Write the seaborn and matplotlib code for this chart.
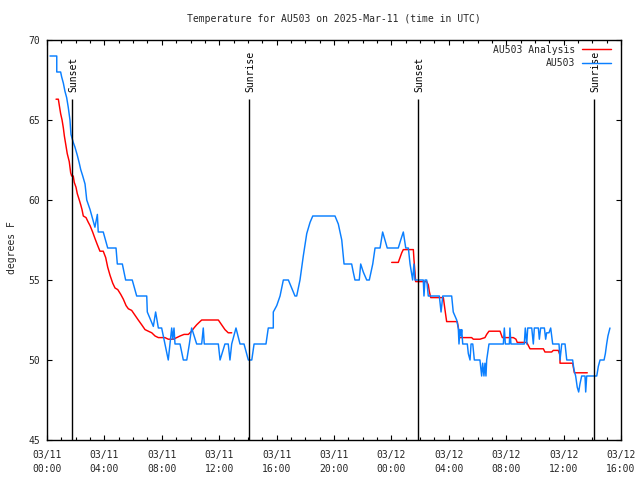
import numpy as np
import pandas as pd
import matplotlib
matplotlib.use("Agg")
import matplotlib.pyplot as plt
import seaborn as sns

# ---------------- data (hours since 2025-03-11 00:00 UTC, degrees F) ----------------
obs_hours = [0.21, 0.68, 0.68, 0.95, 1.02, 1.14, 1.25, 1.37, 1.48, 1.60, 1.67, 1.83, 1.95, 2.11, 2.25,
             2.35, 2.49, 2.65, 2.77, 3.00, 3.34, 3.51, 3.57, 3.92, 4.23, 4.81, 4.90, 5.25, 5.48, 5.94,
             6.25, 6.95, 6.99, 7.41, 7.57, 7.76, 7.99, 8.22, 8.45, 8.57, 8.69, 8.76, 8.85, 8.92, 9.27,
             9.50, 9.74, 9.92, 10.08, 10.43, 10.78, 10.89, 10.96, 11.94, 12.06, 12.40, 12.63, 12.75,
             12.87, 13.17, 13.45, 13.73, 14.03, 14.27, 14.43, 15.26, 15.42, 15.77, 15.77, 16.01, 16.24,
             16.47, 16.82, 17.05, 17.28, 17.40, 17.63, 17.86, 18.10, 18.33, 18.52, 20.07, 20.30, 20.54,
             20.70, 21.23, 21.34, 21.46, 21.76, 21.86, 22.04, 22.28, 22.46, 22.70, 22.86, 23.21, 23.39,
             23.55, 23.71, 24.48, 24.65, 24.83, 25.00, 25.18, 25.30, 25.48, 25.57, 25.64, 26.22, 26.27,
             26.34, 26.46, 26.57, 27.34, 27.46, 27.58, 28.20, 28.31, 28.55, 28.66, 28.71, 28.78, 28.85,
             28.90, 28.97, 29.29, 29.36, 29.48, 29.55, 29.67, 29.78, 30.17, 30.29, 30.36, 30.45, 30.52,
             30.59, 30.64, 30.80, 31.80, 31.87, 31.94, 32.22, 32.26, 32.33, 33.26, 33.33, 33.43, 33.50,
             33.78, 33.89, 33.96, 34.24, 34.31, 34.40, 34.66, 34.75, 34.82, 34.98, 35.10, 35.24, 35.68,
             35.75, 35.87, 36.10, 36.22, 36.63, 36.72, 36.84, 36.95, 37.05, 37.14, 37.26, 37.49, 37.54,
             37.61, 38.31, 38.42, 38.54, 38.82, 38.91, 39.00, 39.09, 39.23]
obs_temps = [69.0, 69.0, 68.0, 68.0, 67.7, 67.3, 66.8, 66.4, 65.8, 65.0, 64.1, 63.6, 63.3, 62.8, 62.3,
             61.9, 61.5, 61.0, 60.0, 59.4, 58.3, 59.1, 58.0, 58.0, 57.0, 57.0, 56.0, 56.0, 55.0, 55.0,
             54.0, 54.0, 53.0, 52.1, 53.0, 52.0, 52.0, 51.0, 50.0, 51.0, 52.0, 51.3, 52.0, 51.0, 51.0,
             50.0, 50.0, 51.0, 52.0, 51.0, 51.0, 52.0, 51.0, 51.0, 50.0, 51.0, 51.0, 50.0,
             51.0, 52.0, 51.0, 51.0, 50.0, 50.0, 51.0, 51.0, 52.0, 52.0, 53.0, 53.4, 54.0,
             55.0, 55.0, 54.5, 54.0, 54.0, 55.0, 56.5, 57.9, 58.6, 59.0, 59.0, 58.5, 57.5,
             56.0, 56.0, 55.5, 55.0, 55.0, 56.0, 55.5, 55.0, 55.0, 56.0, 57.0, 57.0, 58.0,
             57.5, 57.0, 57.0, 57.5, 58.0, 57.0, 57.0, 56.0, 55.0, 56.0, 55.0, 55.0, 54.0,
             55.0, 55.0, 54.0, 54.0, 53.0, 54.0, 54.0, 53.0, 52.5, 52.0, 51.0, 51.9, 51.5,
             51.9, 51.0, 51.0, 50.4, 50.0, 51.0, 51.0, 50.0, 50.0, 49.0, 49.8, 49.0, 49.8,
             49.0, 50.0, 51.0, 51.0, 52.0, 51.0, 51.0, 52.0, 51.0, 51.0, 52.0, 51.0, 52.0,
             52.0, 51.0, 52.0, 52.0, 51.3, 52.0, 52.0, 51.3, 51.7, 51.7, 52.0, 51.0, 51.0,
             50.0, 51.0, 51.0, 50.0, 50.0, 49.4, 49.0, 48.3, 48.0, 48.5, 49.0, 49.0, 48.0,
             49.0, 49.0, 49.6, 50.0, 50.0, 50.4, 51.0, 51.5, 52.0]

ana1_hours = [0.63, 0.79, 0.86, 0.95, 1.05, 1.14, 1.21, 1.32, 1.41, 1.55, 1.65, 1.72, 1.83, 1.90, 2.02,
              2.11, 2.25, 2.35, 2.44, 2.53, 2.72, 2.88, 3.00, 3.18, 3.34, 3.51, 3.69, 3.92, 4.09, 4.23,
              4.39, 4.58, 4.74, 4.93, 5.14, 5.32, 5.51, 5.67, 5.90, 6.13, 6.36, 6.60, 6.83, 7.06, 7.30,
              7.53, 7.76, 8.22, 8.45, 8.80, 9.04, 9.27, 9.55, 9.85, 10.08, 10.24, 10.43, 10.66, 10.78,
              11.94, 12.17, 12.40, 12.63, 12.87]
ana1_temps = [66.3, 66.3, 65.9, 65.4, 65.0, 64.5, 64.0, 63.4, 62.9, 62.4, 61.7, 61.5, 61.5, 61.1, 60.8,
              60.4, 60.0, 59.7, 59.4, 59.0, 58.9, 58.6, 58.4, 58.0, 57.6, 57.2, 56.8, 56.8, 56.4, 55.8,
              55.3, 54.8, 54.5, 54.4, 54.1, 53.8, 53.4, 53.2, 53.1, 52.8, 52.5, 52.2, 51.9, 51.8, 51.7,
              51.5, 51.4, 51.4, 51.3, 51.3, 51.4, 51.5, 51.6, 51.6, 51.8, 52.0, 52.2, 52.4, 52.5,
              52.5, 52.2, 51.9, 51.7, 51.7]
ana2_hours = [24.02, 24.48, 24.60, 24.72, 24.83, 25.53, 25.57, 25.64, 25.69, 26.46, 26.57, 26.64, 26.74,
              27.62, 27.74, 27.85, 28.59, 28.69, 28.73, 29.59, 29.71, 30.17, 30.52, 30.64, 30.80, 31.57,
              31.73, 32.50, 32.68, 32.77, 33.43, 33.66, 34.59, 34.70, 35.17, 35.28, 35.63, 35.75, 35.75,
              36.63, 36.75, 37.65]
ana2_temps = [56.1, 56.1, 56.4, 56.7, 56.9, 56.9, 56.3, 55.5, 54.9, 54.9, 54.7, 54.3, 53.9,
              53.9, 53.1, 52.4, 52.4, 51.9, 51.4, 51.4, 51.3, 51.3, 51.4, 51.6, 51.8, 51.8,
              51.4, 51.4, 51.3, 51.1, 51.1, 50.7, 50.7, 50.5, 50.5, 50.6, 50.6, 50.3, 49.8,
              49.8, 49.2, 49.2]

sun_labels = ["Sunset", "Sunrise", "Sunset", "Sunrise"]
sun_hours = [1.76, 14.10, 25.88, 38.14]

xtick_hours = [0, 4, 8, 12, 16, 20, 24, 28, 32, 36, 40]
xtick_labels = ["03/11\n00:00", "03/11\n04:00", "03/11\n08:00", "03/11\n12:00", "03/11\n16:00",
                "03/11\n20:00", "03/12\n00:00", "03/12\n04:00", "03/12\n08:00", "03/12\n12:00",
                "03/12\n16:00"]
ytick_vals = [45, 50, 55, 60, 65, 70]

title = "Temperature for AU503 on 2025-Mar-11 (time in UTC)"
ylabel = "degrees F"
series_names = ["AU503 Analysis", "AU503"]
colors = {"AU503 Analysis": "#ff0000", "AU503": "#0a7fff"}

# ---------------- build table ----------------
df = pd.concat([
    pd.DataFrame({"hour": ana1_hours, "temp": ana1_temps, "series": series_names[0], "seg": "a1"}),
    pd.DataFrame({"hour": ana2_hours, "temp": ana2_temps, "series": series_names[0], "seg": "a2"}),
    pd.DataFrame({"hour": obs_hours, "temp": obs_temps, "series": series_names[1], "seg": "o"}),
], ignore_index=True)

sns.set_style("ticks")
plt.rcParams["font.family"] = ["DejaVu Sans Mono", "DejaVu Sans"]
plt.rcParams["font.size"] = 7

fig = plt.figure(figsize=(6.4, 4.8), dpi=100)
ax = fig.add_axes([47 / 640, 40 / 480, 574 / 640, 400 / 480])

sns.lineplot(data=df, x="hour", y="temp", hue="series", units="seg", estimator=None, sort=False,
             hue_order=series_names, palette=colors, linewidth=1.05, ax=ax, legend=True)

# sunrise / sunset markers
for lab, h in zip(sun_labels, sun_hours):
    ax.vlines(h, 45, 66.3, color="black", linewidth=1.0)
    ax.text(h + 0.05, 66.75, lab, rotation=90, ha="center", va="bottom", fontsize=7, color="black")

ax.set_xlim(0, 40)
ax.set_ylim(45, 70)
ax.set_xticks(xtick_hours)
ax.set_xticklabels(xtick_labels, linespacing=1.55)
ax.set_xticks(np.arange(0, 41, 1), minor=True)
ax.set_yticks(ytick_vals)
ax.set_yticklabels([str(v) for v in ytick_vals])
ax.tick_params(which="both", direction="in", top=True, right=True, width=0.8, labelsize=7, color="black")
ax.tick_params(which="major", length=3.8)
ax.tick_params(which="minor", length=2.2)
ax.tick_params(axis="x", which="major", pad=7)
ax.tick_params(axis="y", which="major", pad=5)
for s in ax.spines.values():
    s.set_linewidth(1.0)
    s.set_color("black")

ax.set_xlabel("")
ax.set_ylabel(ylabel, fontsize=7)
ax.yaxis.set_label_coords(-0.052, 0.48)

fig.text(334 / 640, 1 - 19 / 480, title, ha="center", va="center", fontsize=7)

handles, labels = ax.get_legend_handles_labels()
ax.legend(handles, labels, loc="upper right", bbox_to_anchor=(1 - 5 / 574, 1.0), frameon=False,
          markerfirst=False, fontsize=7, handlelength=3.0, handletextpad=0.7, labelspacing=0.35,
          borderaxespad=0.2, borderpad=0.3)

fig.savefig("out.png", dpi=100, facecolor="white")
